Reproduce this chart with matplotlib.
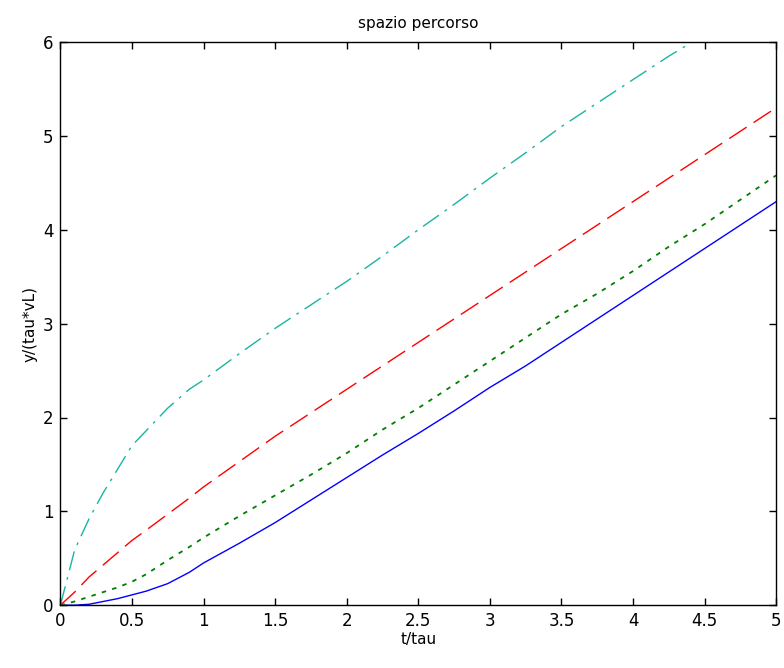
import numpy as np
import matplotlib.pyplot as plt

# time axis (in units of tau)
t = [0, 0.1, 0.2, 0.3, 0.4, 0.5, 0.6, 0.75, 0.9, 1.0, 1.25, 1.5, 1.75, 2.0, 2.25, 2.5,
     2.75, 3.0, 3.25, 3.5, 3.75, 4.0, 4.25, 4.5, 4.75, 5.0]

# displacement y/(tau*vL) for the four cases
y_solid = [0, 0, 0.01, 0.04, 0.07, 0.11, 0.15, 0.23, 0.35, 0.45, 0.66, 0.88, 1.12, 1.36,
           1.6, 1.83, 2.07, 2.32, 2.55, 2.8, 3.05, 3.3, 3.55, 3.8, 4.05, 4.3]
y_dot = [0, 0.04, 0.09, 0.14, 0.19, 0.25, 0.33, 0.48, 0.62, 0.72, 0.95, 1.17, 1.39, 1.62,
         1.87, 2.1, 2.35, 2.6, 2.85, 3.1, 3.32, 3.56, 3.82, 4.06, 4.32, 4.58]
y_dash = [0, 0.14, 0.3, 0.43, 0.56, 0.69, 0.8, 0.97, 1.14, 1.26, 1.53, 1.8, 2.05, 2.3,
          2.55, 2.8, 3.05, 3.3, 3.55, 3.8, 4.05, 4.3, 4.55, 4.8, 5.05, 5.3]
y_dashdot = [0, 0.59, 0.92, 1.2, 1.45, 1.7, 1.86, 2.1, 2.3, 2.4, 2.68, 2.95, 3.2, 3.45,
             3.72, 4.0, 4.27, 4.55, 4.82, 5.1, 5.35, 5.6, 5.85, 6.08, 6.33, 6.58]

fig = plt.figure(figsize=(7.84, 6.68), dpi=100)
ax = fig.add_axes([0.077, 0.094, 0.913, 0.843])

ax.plot(t, y_solid, '-', color='#0000ff', lw=1.0)
ax.plot(t, y_dot, '--', color='#007f00', lw=1.3, dashes=(2.5, 3.5))
ax.plot(t, y_dash, '--', color='#ff0000', lw=1.0, dashes=(15, 6))
ax.plot(t, y_dashdot, '-.', color='#19b5a0', lw=1.0, dashes=(14, 5, 2, 5))

ax.set_xlim(0, 5)
ax.set_ylim(0, 6)
ax.set_xticks(np.arange(0, 5.01, 0.5))
ax.set_xticklabels(['0', '0.5', '1', '1.5', '2', '2.5', '3', '3.5', '4', '4.5', '5'])
ax.set_yticks(range(7))

ax.tick_params(direction='in', top=True, right=True, length=5, width=1,
               labelsize=12, pad=5)
for s in ax.spines.values():
    s.set_linewidth(1.0)

ax.set_title('spazio percorso', fontsize=11, pad=10)
ax.set_xlabel('t/tau', fontsize=11, labelpad=1)
ax.set_ylabel('y/(tau*vL)', fontsize=11, labelpad=4)

fig.savefig('out.png', dpi=100)
